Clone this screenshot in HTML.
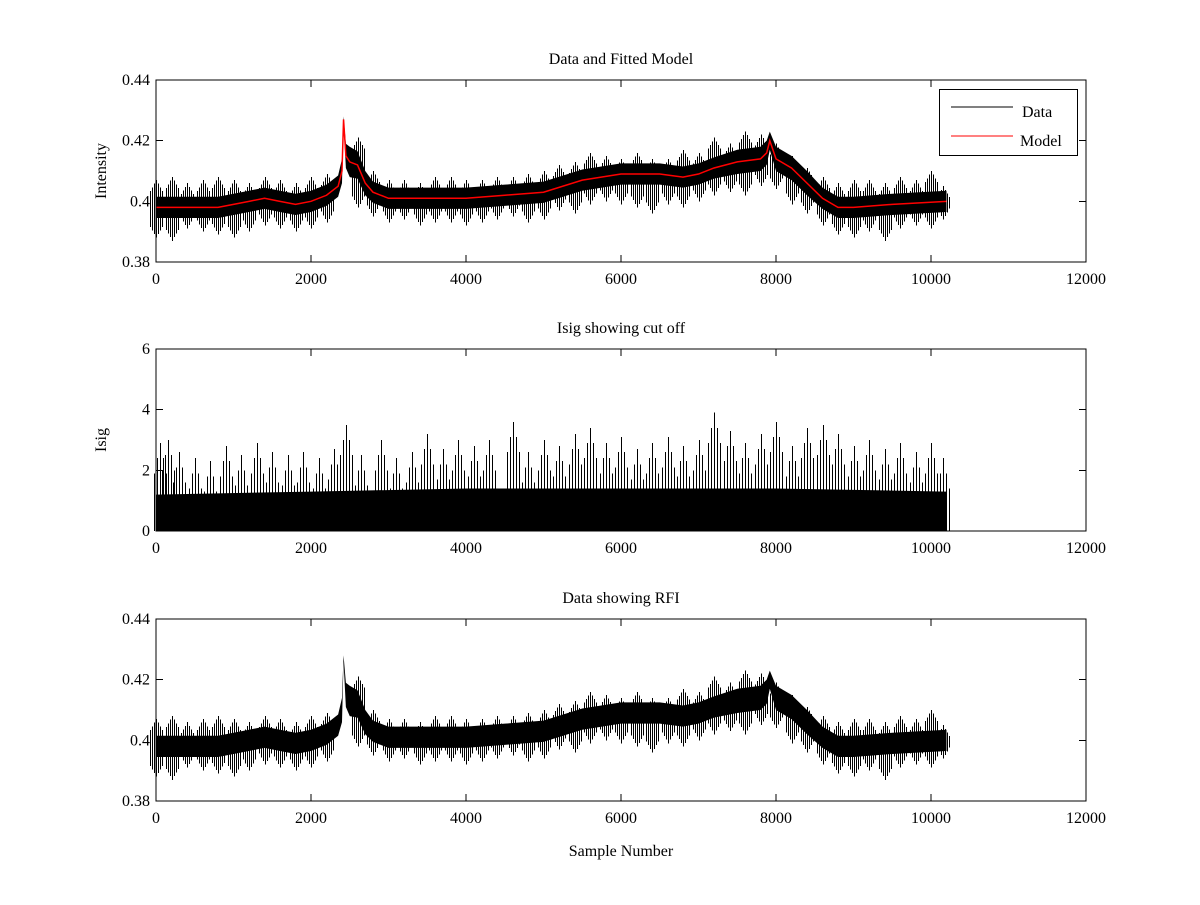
<!DOCTYPE html>
<html><head><meta charset="utf-8"><style>
body{margin:0;background:#fff}
svg text{font-family:"Liberation Serif",serif;font-size:16px;fill:#000}
line{shape-rendering:crispEdges}
</style></head><body>
<svg id="fig" width="1200" height="900" xmlns="http://www.w3.org/2000/svg"></svg>
<script>
// ---- data ----
const xTicks=[0,2000,4000,6000,8000,10000,12000];
const intTicks=[0.38,0.4,0.42,0.44];
const isigTicks=[0,2,4,6];
const modelX=[0,200,400,600,800,1000,1200,1400,1600,1800,2000,2200,2350,2400,2420,2450,2500,2600,2700,2800,3000,3500,4000,4500,5000,5500,6000,6500,6800,7000,7200,7500,7800,7880,7920,8000,8200,8400,8600,8800,9000,9500,10200];
const modelY=[.398,.398,.398,.398,.398,.399,.400,.401,.400,.399,.400,.402,.405,.410,.427,.415,.413,.412,.406,.403,.401,.401,.401,.402,.403,.407,.409,.409,.408,.409,.411,.413,.414,.416,.420,.414,.411,.406,.401,.398,.398,.399,.400];
const bandHalf=[.0035,.0035,.0035,.0035,.0035,.0035,.0035,.0035,.0035,.0035,.0035,.0035,.0035,.004,.001,.004,.005,.0045,.004,.0035,.0035,.0035,.0035,.0035,.0035,.0035,.0035,.0035,.0035,.0035,.0035,.004,.004,.004,.003,.004,.004,.004,.0035,.0035,.0035,.0035,.0035];
const spikeX=[0,200,400,600,800,1000,1200,1400,1600,1800,2000,2200,2600,2800,3000,3200,3400,3600,3800,4000,4200,4400,4600,4800,5000,5200,5400,5600,5800,6000,6200,6400,6600,6800,7000,7200,7400,7600,7800,8000,8200,8400,8600,8800,9000,9200,9400,9600,9800,10000,10150];
const spikeHi=[.407,.408,.406,.407,.408,.407,.406,.408,.407,.406,.408,.409,.421,.410,.407,.407,.406,.408,.408,.407,.407,.408,.408,.409,.410,.412,.413,.416,.415,.414,.416,.414,.414,.417,.416,.421,.419,.423,.422,.419,.415,.411,.408,.406,.407,.407,.406,.408,.407,.410,.405];
const spikeLo=[.388,.387,.391,.390,.389,.388,.390,.392,.391,.390,.391,.393,.398,.395,.393,.394,.392,.393,.393,.392,.393,.394,.395,.393,.394,.397,.396,.399,.400,.399,.398,.396,.399,.398,.400,.402,.403,.402,.405,.404,.399,.396,.392,.389,.388,.390,.387,.391,.392,.391,.394];
const isigBandX=[0,2000,4000,6000,8000,10200];
const isigBand=[1.2,1.3,1.4,1.4,1.4,1.3];
const isigPeakX=[50,150,300,500,700,900,1100,1300,1500,1700,1900,2100,2300,2450,2650,2900,3100,3300,3500,3700,3900,4100,4300,4600,4800,5000,5200,5400,5600,5800,6000,6200,6400,6600,6800,7000,7200,7400,7600,7800,8000,8200,8400,8600,8800,9000,9200,9400,9600,9800,10000,10150];
const isigPeak=[2.9,3.0,2.6,2.4,2.3,2.8,2.5,2.9,2.6,2.5,2.6,2.4,2.7,3.5,2.5,3.0,2.4,2.6,3.2,2.7,3.0,2.8,3.0,3.6,2.6,3.0,2.8,3.2,3.4,2.9,3.1,2.7,2.9,3.1,2.8,3.0,3.9,3.3,2.9,3.2,3.6,2.8,3.4,3.5,3.2,2.8,3.0,2.7,2.9,2.6,2.9,2.4];

const S=document.getElementById('fig'),NS='http://www.w3.org/2000/svg';
function mk(t,a,p){const e=document.createElementNS(NS,t);for(const k in a)e.setAttribute(k,a[k]);(p||S).appendChild(e);return e;}
const L=156,R=1086;
const xs=v=>L+(v/12000)*(R-L);
function axes(top,bot,y0,y1,yt,title,ylab,name,xlab){
  const g=mk('g',{});
  
  
  const ys=v=>bot-(v-y0)/(y1-y0)*(bot-top);
  return {g,ys,finish(){
    mk('rect',{x:L,y:top,width:R-L,height:bot-top,fill:'none',stroke:'#000','stroke-width':1,'shape-rendering':'crispEdges'},g);
    xTicks.forEach(t=>{const x=xs(t);mk('line',{x1:x,x2:x,y1:bot,y2:bot-7,stroke:'#000'},g);mk('line',{x1:x,x2:x,y1:top,y2:top+7,stroke:'#000'},g);
      const tx=mk('text',{x:x,y:bot+22,'text-anchor':'middle'},g);tx.textContent=t;});
    yt.forEach(t=>{const y=ys(t);mk('line',{x1:L,x2:L+7,y1:y,y2:y,stroke:'#000'},g);mk('line',{x1:R,x2:R-7,y1:y,y2:y,stroke:'#000'},g);
      const tx=mk('text',{x:L-6,y:y+5,'text-anchor':'end'},g);tx.textContent=t;});
    const ti=mk('text',{x:(L+R)/2,y:top-16,'text-anchor':'middle'},g);ti.textContent=title;
    if(ylab){const yl=mk('text',{x:0,y:0,'text-anchor':'middle',transform:`translate(106,${(top+bot)/2}) rotate(-90)`},g);yl.textContent=ylab;}
    if(xlab){const xl=mk('text',{x:(L+R)/2,y:bot+55,'text-anchor':'middle'},g);xl.textContent=xlab;}
  }};
}
function drawData(ax){
  const up=modelX.map((x,i)=>xs(x)+','+ax.ys(modelY[i]+bandHalf[i]));
  const lo=modelX.map((x,i)=>xs(x)+','+ax.ys(modelY[i]-bandHalf[i])).reverse();
  const p=mk('polygon',{points:up.concat(lo).join(' '),fill:'#000'},ax.g);
  
  spikeX.forEach((x,i)=>{
    for(let k=-3;k<=3;k++){const l=mk('line',{x1:Math.round(xs(x)+k*2)+0.5,x2:Math.round(xs(x)+k*2)+0.5,y1:ax.ys(spikeHi[i]-Math.abs(k)*0.0012),y2:ax.ys(spikeLo[i]+Math.abs(k)*0.0012),stroke:'#000','stroke-width':1},ax.g);
    }
  });
}
// subplot 1
const a1=axes(80,262,0.38,0.44,intTicks,'Data and Fitted Model','Intensity','intensity-model-axes');
drawData(a1);
const m=mk('polyline',{points:modelX.map((x,i)=>xs(x)+','+a1.ys(modelY[i])).join(' '),fill:'none',stroke:'#f00','stroke-width':1.5},a1.g);

a1.finish();
const lg=mk('g',{});
mk('rect',{x:939.5,y:89.5,width:138,height:66,fill:'#fff',stroke:'#000'},lg);
mk('line',{x1:951,x2:1013,y1:107,y2:107,stroke:'#000'},lg);
mk('line',{x1:951,x2:1013,y1:136,y2:136,stroke:'#f00'},lg);
let t=mk('text',{x:1022,y:117},lg);t.textContent='Data';
t=mk('text',{x:1020,y:146},lg);t.textContent='Model';
// subplot 2
const a2=axes(349,531,0,6,isigTicks,'Isig showing cut off','Isig','isig-axes');
const bp=isigBandX.map((x,i)=>xs(x)+','+a2.ys(isigBand[i])).concat([xs(10200)+','+a2.ys(0),xs(0)+','+a2.ys(0)]);
const b2=mk('polygon',{points:bp.join(' '),fill:'#000'},a2.g);

isigPeakX.forEach((x,i)=>{for(let k=-2;k<=2;k++){const l=mk('line',{x1:Math.round(xs(x)+k*3)+0.5,x2:Math.round(xs(x)+k*3)+0.5,y1:a2.ys(isigPeak[i]-Math.abs(k)*0.5),y2:a2.ys(0),stroke:'#000'},a2.g);
 }});
a2.finish();
// subplot 3
const a3=axes(619,801,0.38,0.44,intTicks,'Data showing RFI',null,'rfi-data-axes','Sample Number');
drawData(a3);
a3.finish();
</script>
</body></html>
